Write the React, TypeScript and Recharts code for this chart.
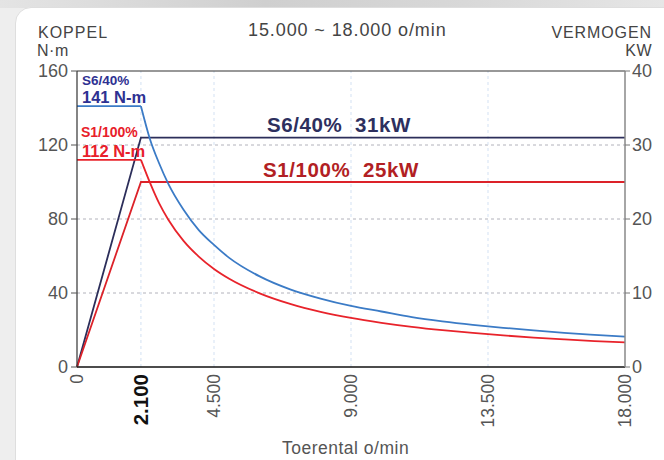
import React from "react";
import { LineChart, Line, XAxis, YAxis, ReferenceLine } from "recharts";

// speed (o/min) and torque (N·m)
const s6Speed = [0, 2100, 2400, 2700, 3000, 3500, 4000, 4500, 5000, 6000, 7000, 8000, 9000, 10000, 11000, 12000, 13000, 14000, 15000, 16000, 17000, 18000];
const s6Torque = [141, 141, 123, 110, 99, 85, 74, 66, 59, 49, 42, 37, 33, 30, 27, 24.7, 22.8, 21.2, 19.8, 18.5, 17.4, 16.4];
const s1Speed = [0, 2100, 2400, 2700, 3000, 3500, 4000, 4500, 5000, 6000, 7000, 8000, 9000, 10000, 11000, 12000, 13000, 14000, 15000, 16000, 17000, 18000];
const s1Torque = [112, 112, 99.5, 88.4, 79.6, 68.2, 59.7, 53, 47.7, 39.8, 34.1, 29.8, 26.5, 23.9, 21.7, 19.9, 18.4, 17.1, 15.9, 14.9, 14, 13.3];
// power (kW)
const s6PowerSpeed = [0, 2100, 18000];
const s6Power = [0, 31, 31];
const s1PowerSpeed = [0, 2100, 18000];
const s1Power = [0, 25, 25];

const cornerSpeed = 2100;

const xTicks = [0, 2100, 4500, 9000, 13500, 18000];
const xTickLabels = ["0", "2.100", "4.500", "9.000", "13.500", "18.000"];
const leftTicks = [0, 40, 80, 120, 160];
const rightTicks = [0, 10, 20, 30, 40];
const vGrid = [2100, 4500, 9000, 13500];
const hGrid = [40, 80, 120];

const toRows = (xs: number[], ys: number[]) => xs.map((n, i) => ({ n, v: ys[i] }));
const s6TorqueRows = toRows(s6Speed, s6Torque);
const s1TorqueRows = toRows(s1Speed, s1Torque);
const s6FlatData = s6TorqueRows.filter((r) => r.n <= cornerSpeed);
const s6CurveData = s6TorqueRows.filter((r) => r.n >= cornerSpeed);
const s1FlatData = s1TorqueRows.filter((r) => r.n <= cornerSpeed);
const s1CurveData = s1TorqueRows.filter((r) => r.n >= cornerSpeed);
const s6PowerData = toRows(s6PowerSpeed, s6Power);
const s1PowerData = toRows(s1PowerSpeed, s1Power);

const FONT = "'Liberation Sans', Arial, Helvetica, sans-serif";

const XTick = (props: any) => {
  const { x, y, payload } = props;
  const idx = xTicks.indexOf(payload.value);
  const label = idx >= 0 ? xTickLabels[idx] : String(payload.value);
  const bold = payload.value === 2100;
  return (
    <g transform={`translate(${x},${y})`}>
      <text
        x={0}
        y={0}
        dy="0.36em"
        transform="rotate(-90)"
        textAnchor="end"
        fontFamily={FONT}
        fontSize={bold ? 20.5 : 17.5}
        fontWeight={bold ? 700 : 400}
        fill={bold ? "#111" : "#555"}
      >
        {label}
      </text>
    </g>
  );
};

export default function App() {
  return (
    <div style={{ position: "absolute", left: 0, top: 0, width: 664, height: 460, background: "#eeeeee", overflow: "hidden", fontFamily: FONT }}>
      <div style={{ position: "absolute", left: 0, top: 0, width: 664, height: 8, background: "linear-gradient(90deg, #e4e4e4 0%, #cfcfcf 40%, #d8d8d8 70%, #e6e6e6 100%)" }} />
      <div style={{ position: "absolute", left: 15, top: 7, width: 700, height: 470, background: "#ffffff", borderRadius: 16, border: "1px solid #dedede" }} />
      <div style={{ position: "absolute", left: 0, top: 0 }}>
        <LineChart width={664} height={460} margin={{ top: 71, right: 0, bottom: 33, left: 0 }}>
          <XAxis
            dataKey="n"
            type="number"
            domain={[0, 18000]}
            ticks={xTicks}
            interval={0}
            tick={<XTick />}
            tickLine={false}
            tickSize={0}
            tickMargin={7}
            height={60}
            axisLine={{ stroke: "#111", strokeWidth: 1.5 }}
            allowDuplicatedCategory={false}
          />
          <YAxis
            yAxisId="left"
            domain={[0, 160]}
            ticks={leftTicks}
            interval={0}
            width={77}
            tickSize={6}
            tickMargin={3}
            tick={{ fill: "#555", fontSize: 18, fontFamily: FONT }}
            tickLine={{ stroke: "#555" }}
            axisLine={{ stroke: "#333", strokeWidth: 1.2 }}
          />
          <YAxis
            yAxisId="right"
            orientation="right"
            domain={[0, 40]}
            ticks={rightTicks}
            interval={0}
            width={39}
            tickSize={5}
            tickMargin={2}
            tick={{ fill: "#555", fontSize: 18, fontFamily: FONT }}
            tickLine={{ stroke: "#777" }}
            axisLine={{ stroke: "#888", strokeWidth: 1.5 }}
          />
          {hGrid.map((v) => (
            <ReferenceLine key={"h" + v} yAxisId="left" y={v} stroke="#a0a0aa" strokeDasharray="3 3" strokeWidth={0.8} />
          ))}
          {vGrid.map((v) => (
            <ReferenceLine key={"v" + v} yAxisId="left" x={v} stroke="#d3e1f3" strokeDasharray="3 3" strokeWidth={1} />
          ))}
          <ReferenceLine yAxisId="left" y={160} stroke="#333" strokeWidth={1.2} />
          <Line yAxisId="right" data={s6PowerData} dataKey="v" type="linear" stroke="#2c2e5a" strokeWidth={1.8} dot={false} isAnimationActive={false} />
          <Line yAxisId="right" data={s1PowerData} dataKey="v" type="linear" stroke="#dc2229" strokeWidth={1.8} dot={false} isAnimationActive={false} />
          <Line yAxisId="left" data={s6FlatData} dataKey="v" type="linear" stroke="#3b7bc6" strokeWidth={1.8} dot={false} isAnimationActive={false} />
          <Line yAxisId="left" data={s6CurveData} dataKey="v" type="monotone" stroke="#3b7bc6" strokeWidth={1.8} dot={false} isAnimationActive={false} />
          <Line yAxisId="left" data={s1FlatData} dataKey="v" type="linear" stroke="#e8232b" strokeWidth={1.8} dot={false} isAnimationActive={false} />
          <Line yAxisId="left" data={s1CurveData} dataKey="v" type="monotone" stroke="#e8232b" strokeWidth={1.8} dot={false} isAnimationActive={false} />
        </LineChart>
      </div>
      <svg width={664} height={460} style={{ position: "absolute", left: 0, top: 0, pointerEvents: "none" }}>
        <g fontFamily={FONT}>
          <text x={38} y={38} fontSize={16} fill="#444" letterSpacing={1}>KOPPEL</text>
          <text x={37} y={56} fontSize={16} fill="#444" letterSpacing={0.5}>N·m</text>
          <text x={248} y={36} fontSize={18} fill="#444" letterSpacing={0.9}>15.000 ~ 18.000 o/min</text>
          <text x={652} y={38} fontSize={16} fill="#444" textAnchor="end" letterSpacing={0.9}>VERMOGEN</text>
          <text x={652} y={56} fontSize={16} fill="#444" textAnchor="end" letterSpacing={0.5}>KW</text>
          <text x={282} y={454} fontSize={17.5} fill="#555" letterSpacing={0.5}>Toerental o/min</text>
          <text x={82} y={85} fontSize={13.5} fontWeight={700} fill="#2e3192">S6/40%</text>
          <text x={82} y={103} fontSize={16.5} fontWeight={700} fill="#2e3192">141 N-m</text>
          <text x={81} y={137} fontSize={14} fontWeight={700} fill="#e8202a">S1/100%</text>
          <text x={82} y={157} fontSize={16.5} fontWeight={700} fill="#e8202a">112 N-m</text>
          <text x={267} y={132} fontSize={20.5} fontWeight={700} fill="#2d2f5e" letterSpacing={0.6} style={{ whiteSpace: "pre" }}>{"S6/40%  31kW"}</text>
          <text x={263} y={177} fontSize={20.5} fontWeight={700} fill="#b21f24" letterSpacing={0.6} style={{ whiteSpace: "pre" }}>{"S1/100%  25kW"}</text>
        </g>
      </svg>
    </div>
  );
}
